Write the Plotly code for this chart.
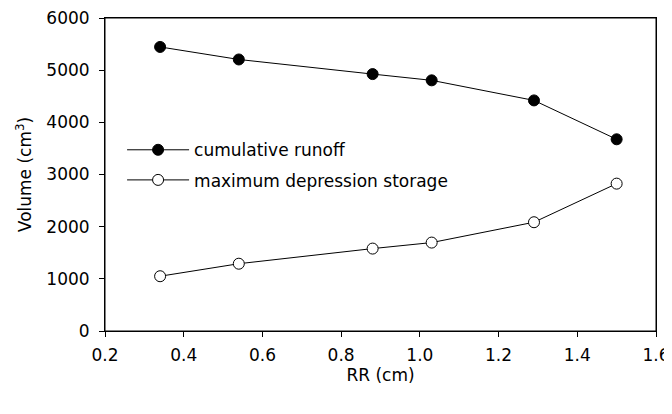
import plotly.graph_objects as go

rr = [0.34, 0.54, 0.88, 1.03, 1.29, 1.50]
cumulative_runoff = [5445, 5205, 4925, 4805, 4420, 3675]
max_depression_storage = [1050, 1290, 1580, 1695, 2085, 2825]

FONT = "DejaVu Sans"
FS = 17

fig = go.Figure()
fig.add_trace(go.Scatter(
    x=rr, y=cumulative_runoff, mode="lines+markers", name="cumulative runoff",
    legendgroup="a",
    line=dict(color="black", width=1),
    marker=dict(symbol="circle", size=11, color="black", line=dict(color="black", width=1)),
))
fig.add_trace(go.Scatter(
    x=rr, y=max_depression_storage, mode="lines+markers", name="maximum depression storage",
    legendgroup="b",
    line=dict(color="black", width=1),
    marker=dict(symbol="circle", size=11, color="white", line=dict(color="black", width=1)),
))

axis_common = dict(
    showgrid=False, zeroline=False, showline=True, linecolor="black", linewidth=1,
    mirror=True, ticks="outside", ticklen=5, tickcolor="black", tickwidth=1,
    automargin=False, ticklabeloverflow="allow",
    tickfont=dict(family=FONT, size=FS, color="black"),
)

fig.update_xaxes(range=[0.2, 1.6], tickvals=[0.2, 0.4, 0.6, 0.8, 1.0, 1.2, 1.4, 1.6],
                 ticktext=["0.2", "0.4", "0.6", "0.8", "1.0", "1.2", "1.4", "1.6"],
                 ticklabelstandoff=4,
                 title=dict(text="RR (cm)", font=dict(family=FONT, size=FS, color="black"), standoff=2),
                 **axis_common)
fig.update_yaxes(range=[0, 6000], tickvals=[0, 1000, 2000, 3000, 4000, 5000, 6000],
                 ticklabelstandoff=6,
                 title=dict(text="Volume (cm<sup>3</sup>)", font=dict(family=FONT, size=FS, color="black"), standoff=10),
                 **axis_common)

# plot-area frame (paper coordinates)
fig.add_shape(type="rect", xref="paper", yref="paper", x0=0, x1=1, y0=0, y1=1,
              line=dict(color="black", width=1), fillcolor="rgba(0,0,0,0)", layer="above")

fig.update_layout(
    width=672, height=414,
    margin=dict(l=97, r=24, t=10, b=91, autoexpand=False),
    plot_bgcolor="white", paper_bgcolor="white",
    showlegend=True,
    legend=dict(x=0.031, y=0.635, xanchor="left", yanchor="top", itemwidth=62,
                bgcolor="rgba(0,0,0,0)", tracegroupgap=5, traceorder="grouped",
                font=dict(family=FONT, size=FS, color="black")),
)

fig.write_html("out.html")
